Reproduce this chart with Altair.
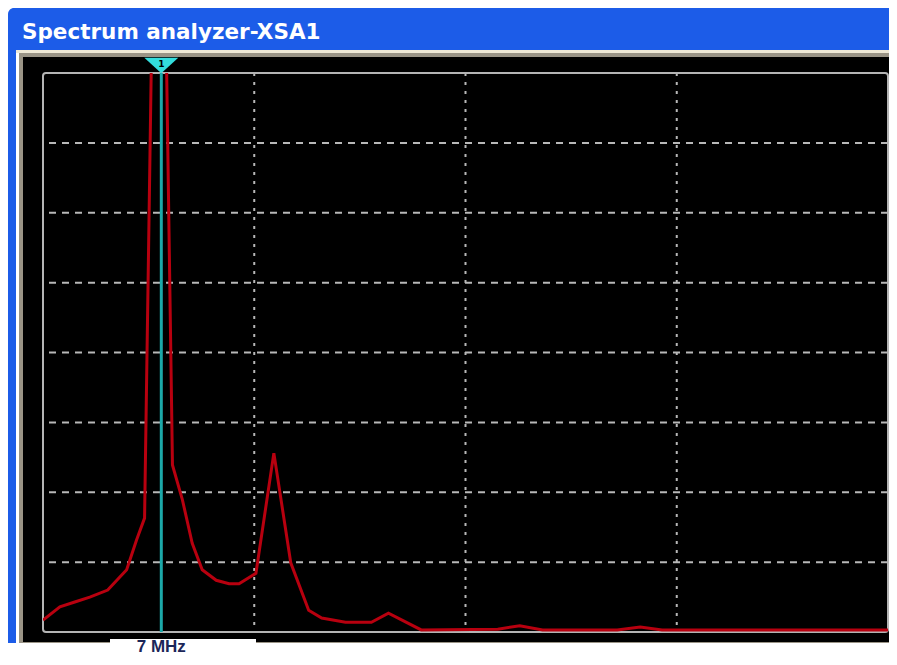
import altair as alt
import pandas as pd

# ---- data (frequency in MHz, level in grid divisions) ----
freq_mhz = [0.00, 1.00, 1.88, 2.77, 3.83, 4.95, 5.54, 6.01, 6.42, 7.30, 7.66, 8.25,
            8.83, 9.42, 10.25, 11.01, 11.60, 12.60, 13.66, 14.66, 15.72, 16.49,
            17.90, 19.43, 20.44, 22.38, 26.91, 28.21, 29.56, 33.98, 35.34, 36.63, 50.00]
level_div = [0.17, 0.36, 0.43, 0.50, 0.60, 0.89, 1.32, 1.63, 8.30, 8.30, 2.39, 1.89,
             1.27, 0.89, 0.74, 0.69, 0.69, 0.84, 2.56, 0.99, 0.31, 0.20,
             0.14, 0.14, 0.27, 0.03, 0.04, 0.09, 0.03, 0.03, 0.07, 0.03, 0.03]
x_grid = [12.5, 25.0, 37.5]
y_grid = [1, 2, 3, 4, 5, 6, 7]
marker_freq = [7]
marker_label = ["7 MHz"]
title_text = "Spectrum analyzer-XSA1"

X_DOM = [0, 50]
Y_DOM = [0, 8]
W, H = 845, 559
PAD = {"left": 35, "top": 65, "right": 1, "bottom": 25}
RIGHT = W + PAD["right"]      # canvas right edge, in plot pixels
BOTTOM = H + PAD["bottom"]    # canvas bottom edge, in plot pixels

trace = pd.DataFrame({"f": freq_mhz, "v": level_div})
xg = pd.DataFrame({"f": x_grid})
yg = pd.DataFrame({"v": y_grid})
mk = pd.DataFrame({"f": marker_freq, "label": marker_label, "top": [Y_DOM[1]], "bot": [Y_DOM[0]]})
border = pd.DataFrame({"x0": [X_DOM[0]], "x1": [X_DOM[1]], "y0": [Y_DOM[0]], "y1": [Y_DOM[1]]})

xs = alt.Scale(domain=X_DOM, nice=False, zero=False)
ys = alt.Scale(domain=Y_DOM, nice=False, zero=False)

one = alt.Data(values=[{}])


def deco(x, x2, y, y2, color, **kw):
    return alt.Chart(one).mark_rect(color=color, **kw).encode(
        x=alt.value(x), x2=alt.value(x2), y=alt.value(y), y2=alt.value(y2))


BLUE = "#1c5ce8"
layers = [
    # window chrome
    deco(-35, RIGHT, -65, -23, BLUE, cornerRadiusTopLeft=6),
    deco(-35, -27, -23, 570, BLUE),
    deco(-24, RIGHT, -23, 570, "#9a9486"),
    deco(-27, RIGHT, -23, -20, "#efe9d6"),
    deco(-20, RIGHT, -16, 569, "#000000"),
    deco(67, 213, 566, BOTTOM, "#ffffff"),
    # grid
    alt.Chart(xg).mark_rule(color="#b8b8b8", strokeWidth=2, strokeDash=[3, 6]).encode(
        x=alt.X("f:Q", scale=xs, axis=None)),
    alt.Chart(yg).mark_rule(color="#b8b8b8", strokeWidth=2, strokeDash=[7, 6]).encode(
        y=alt.Y("v:Q", scale=ys, axis=None)),
    # plot border
    alt.Chart(border).mark_rect(fill=None, stroke="#b4b4b4", strokeWidth=2, cornerRadius=3).encode(
        x=alt.X("x0:Q", scale=xs, axis=None), x2="x1:Q",
        y=alt.Y("y0:Q", scale=ys, axis=None), y2="y1:Q"),
    # trace
    alt.Chart(trace).mark_line(color="#b8000f", strokeWidth=3, clip=True).encode(
        x=alt.X("f:Q", scale=xs, axis=None),
        y=alt.Y("v:Q", scale=ys, axis=None)),
    # marker line
    alt.Chart(mk).mark_rule(color="#1ca9a9", strokeWidth=3).encode(
        x=alt.X("f:Q", scale=xs, axis=None),
        y=alt.Y("bot:Q", scale=ys, axis=None), y2="top:Q"),
    # marker triangle
    alt.Chart(mk).mark_point(shape="M-1,-0.45L1,-0.45L0,0.45Z", size=1150, filled=True,
                             color="#33dddd", opacity=1, yOffset=-7.5).encode(
        x=alt.X("f:Q", scale=xs, axis=None),
        y=alt.Y("top:Q", scale=ys, axis=None)),
    alt.Chart(mk).mark_text(text="1", fontSize=9, fontWeight="bold", color="#000000",
                            yOffset=-9, font="DejaVu Sans").encode(
        x=alt.X("f:Q", scale=xs, axis=None),
        y=alt.Y("top:Q", scale=ys, axis=None)),
    # marker frequency label
    alt.Chart(mk).mark_text(fontSize=17, fontWeight="bold", color="#1b2658",
                            font="Liberation Sans", baseline="bottom", align="center").encode(
        x=alt.X("f:Q", scale=xs, axis=None), y=alt.value(BOTTOM - 1), text="label:N"),
    # window title
    alt.Chart(one).mark_text(text=title_text, fontSize=21.5, fontWeight="bold", color="#ffffff",
                             font="DejaVu Sans", align="left", baseline="alphabetic").encode(
        x=alt.value(-21), y=alt.value(-34)),
]

chart = alt.layer(*layers).properties(
    width=W, height=H,
    autosize=alt.AutoSizeParams(type="none"),
    padding=PAD,
    background="#ffffff",
).configure_view(stroke=None)

chart.save("out.html", embed_options={"renderer": "svg", "actions": False})
